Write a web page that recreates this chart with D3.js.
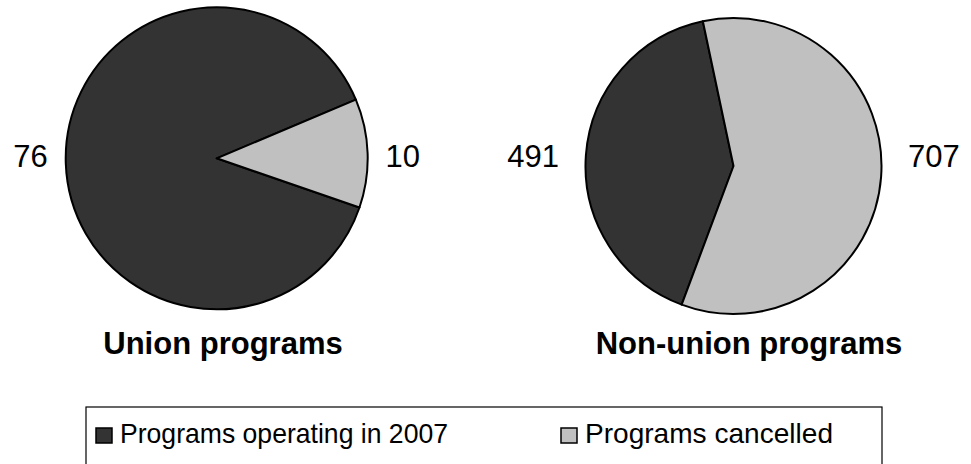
<!DOCTYPE html>
<html>
<head>
<meta charset="utf-8">
<script src="https://cdn.jsdelivr.net/npm/d3@7"></script>
<style>
  body{margin:0;background:#fff;}
  text{font-family:"Liberation Sans",Arial,sans-serif;fill:#000;}
</style>
</head>
<body>
<svg id="chart" width="971" height="464"></svg>
<script>
// data
var categories = ["Programs operating in 2007", "Programs cancelled"];
var unionValues = [76, 10];
var nonUnionValues = [491, 707];
var pieTitles = ["Union programs", "Non-union programs"];

var colors = ["#333333", "#c0c0c0"];
var width = 971, height = 464;

var svg = d3.select("#chart");

var color = d3.scaleOrdinal().domain(categories).range(colors);

// pie layouts: position, radius, first slice angle (deg, clockwise from top)
var pies = [
  {values: unionValues, title: pieTitles[0], cx: 216.7, cy: 158.3, r: 151, start: 109, titleX: 223, gap: 18, labelDy: -2},
  {values: nonUnionValues, title: pieTitles[1], cx: 733.5, cy: 166, r: 148, start: 200.5, titleX: 749, gap: 27, labelDy: -10}
];

pies.forEach(function(p){
  var s = p.start * Math.PI / 180;
  var pie = d3.pie().sort(null).startAngle(s).endAngle(s + 2*Math.PI);
  var arcs = pie(p.values);
  var arc = d3.arc().innerRadius(0).outerRadius(p.r);

  var g = svg.append("g").attr("transform", "translate(" + p.cx + "," + p.cy + ")");

  g.selectAll("path").data(arcs).enter()
    .append("path")
    .attr("d", arc)
    .attr("fill", function(d,i){ return color(categories[i]); })
    .attr("stroke", "#000")
    .attr("stroke-width", 2)
    .attr("stroke-linejoin", "round");

  // outside labels, left or right of the pie
  var lr = p.r + p.gap;
  g.selectAll("text.lbl").data(arcs).enter()
    .append("text")
    .attr("class", "lbl")
    .attr("x", function(d){ var a = (d.startAngle + d.endAngle)/2; return lr * Math.sin(a); })
    .attr("y", p.labelDy)
    .attr("dy", "0.36em")
    .attr("text-anchor", function(d){ var a = (d.startAngle + d.endAngle)/2; return Math.sin(a) < 0 ? "end" : "start"; })
    .style("font-size", "31px")
    .text(function(d){ return d.data; });

  svg.append("text")
    .attr("x", p.titleX)
    .attr("y", 354)
    .attr("text-anchor", "middle")
    .style("font-size", "31px")
    .style("font-weight", "bold")
    .text(p.title);
});

// legend
var legend = svg.append("g").attr("class", "legend");
legend.append("rect")
  .attr("x", 86).attr("y", 407)
  .attr("width", 796).attr("height", 70)
  .attr("fill", "none").attr("stroke", "#000").attr("stroke-width", 1.2);

var itemX = [96, 561], textLen = [328, 248];
var items = legend.selectAll("g.item").data(categories).enter()
  .append("g").attr("class", "item")
  .attr("transform", function(d,i){ return "translate(" + itemX[i] + ",428)"; });

items.append("rect")
  .attr("width", 16).attr("height", 15)
  .attr("fill", function(d){ return color(d); })
  .attr("stroke", "#000").attr("stroke-width", 1.5);

items.append("text")
  .attr("x", 24).attr("y", 15)
  .style("font-size", "28px")
  .attr("textLength", function(d,i){ return textLen[i]; })
  .attr("lengthAdjust", "spacingAndGlyphs")
  .text(function(d){ return d; });
</script>
</body>
</html>
